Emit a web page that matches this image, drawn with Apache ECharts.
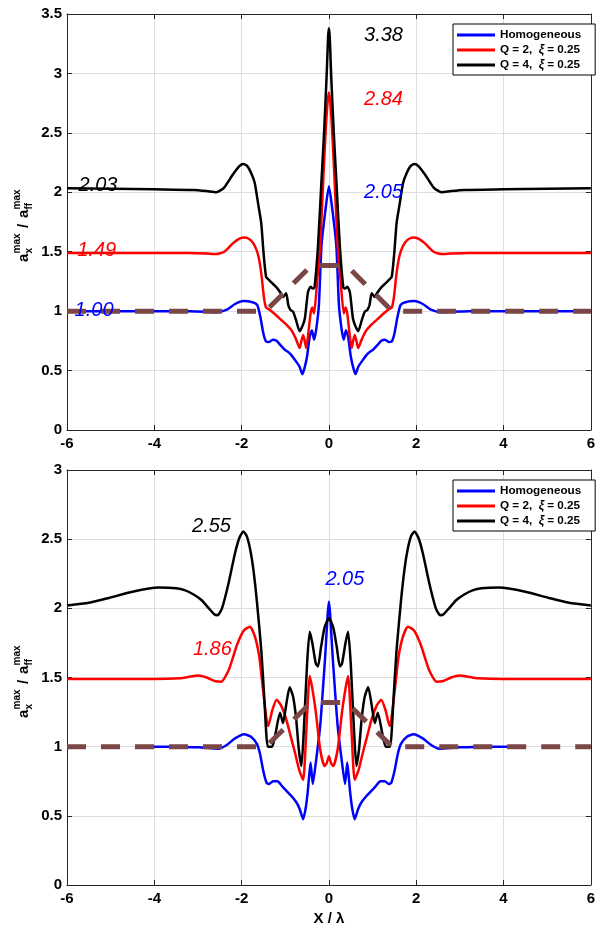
<!DOCTYPE html>
<html><head><meta charset="utf-8">
<script src="https://cdn.jsdelivr.net/npm/echarts@6/dist/echarts.min.js"></script>
<style>html,body{margin:0;padding:0;background:#fff}#c{width:598px;height:927px}</style>
</head><body><div id="c"></div>
<script>
// ---------- ticks ----------
const xTicks = [-6, -4, -2, 0, 2, 4, 6];
const yTicksTop = [0, 0.5, 1, 1.5, 2, 2.5, 3, 3.5];
const yTicksBottom = [0, 0.5, 1, 1.5, 2, 2.5, 3];

const names = ['Homogeneous', 'Q = 2,  ξ = 0.25', 'Q = 4,  ξ = 0.25'];
const colors = ['#0000ff', '#ff0000', '#000000'];

// ---------- top panel data [x, y] ----------
const topHomogeneous = [
[-6,1.0],[-5,1.0],[-4,1.0],[-3.2,1.0],[-2.8,0.995],[-2.58,0.99],[-2.35,1.01],[-2.15,1.06],[-1.96,1.085],[-1.75,1.075],[-1.64,1.05],[-1.57,0.95],[-1.5,0.81],[-1.44,0.745],[-1.37,0.74],[-1.28,0.76],[-1.2,0.75],[-1.1,0.71],[-1.01,0.675],[-0.93,0.655],[-0.86,0.63],[-0.75,0.575],[-0.67,0.53],[-0.61,0.47],[-0.56,0.52],[-0.5,0.62],[-0.44,0.785],[-0.39,0.84],[-0.34,0.76],[-0.29,0.85],[-0.23,1.05],[-0.17,1.55],[-0.08,1.85],[0,2.05],
[0.08,1.85],[0.17,1.55],[0.23,1.05],[0.29,0.85],[0.34,0.76],[0.39,0.84],[0.44,0.785],[0.5,0.62],[0.56,0.52],[0.61,0.47],[0.67,0.53],[0.75,0.575],[0.86,0.63],[0.93,0.655],[1.01,0.675],[1.1,0.71],[1.2,0.75],[1.28,0.76],[1.37,0.74],[1.44,0.745],[1.5,0.81],[1.57,0.95],[1.64,1.05],[1.75,1.075],[1.96,1.085],[2.15,1.06],[2.35,1.01],[2.58,0.99],[2.8,0.995],[3.2,1.0],[4,1.0],[5,1.0],[6,1.0]
];
const topQ2 = [
[-6,1.49],[-5,1.49],[-4,1.49],[-3.2,1.49],[-2.8,1.485],[-2.58,1.48],[-2.4,1.5],[-2.2,1.57],[-2.05,1.61],[-1.92,1.62],[-1.8,1.6],[-1.7,1.55],[-1.62,1.47],[-1.55,1.32],[-1.49,1.12],[-1.44,1.03],[-1.35,1.01],[-1.22,0.97],[-1.09,0.925],[-0.97,0.885],[-0.86,0.84],[-0.76,0.77],[-0.67,0.69],[-0.63,0.75],[-0.59,0.8],[-0.55,0.74],[-0.52,0.69],[-0.47,0.82],[-0.42,0.98],[-0.38,1.03],[-0.34,0.98],[-0.27,1.25],[-0.2,1.56],[-0.13,2.1],[-0.075,2.51],[-0.03,2.76],[0,2.84],
[0.03,2.76],[0.075,2.51],[0.13,2.1],[0.2,1.56],[0.27,1.25],[0.34,0.98],[0.38,1.03],[0.42,0.98],[0.47,0.82],[0.52,0.69],[0.55,0.74],[0.59,0.8],[0.63,0.75],[0.67,0.69],[0.76,0.77],[0.86,0.84],[0.97,0.885],[1.09,0.925],[1.22,0.97],[1.35,1.01],[1.44,1.03],[1.49,1.12],[1.55,1.32],[1.62,1.47],[1.7,1.55],[1.8,1.6],[1.92,1.62],[2.05,1.61],[2.2,1.57],[2.4,1.5],[2.58,1.48],[2.8,1.485],[3.2,1.49],[4,1.49],[5,1.49],[6,1.49]
];
const topQ4 = [
[-6,2.035],[-5,2.03],[-4,2.025],[-3.1,2.02],[-2.8,2.01],[-2.58,2.0],[-2.4,2.04],[-2.2,2.15],[-2.05,2.22],[-1.96,2.237],[-1.87,2.22],[-1.78,2.16],[-1.7,2.08],[-1.62,1.9],[-1.55,1.74],[-1.5,1.5],[-1.44,1.29],[-1.38,1.265],[-1.3,1.235],[-1.2,1.2],[-1.1,1.15],[-1.05,1.12],[-0.98,1.15],[-0.93,1.05],[-0.88,1.01],[-0.82,0.995],[-0.75,0.92],[-0.67,0.83],[-0.6,0.88],[-0.55,0.94],[-0.48,1.16],[-0.42,1.205],[-0.37,1.19],[-0.33,1.2],[-0.25,1.55],[-0.17,2.1],[-0.11,2.51],[-0.05,3.0],[-0.02,3.3],[0,3.38],
[0.02,3.3],[0.05,3.0],[0.11,2.51],[0.17,2.1],[0.25,1.55],[0.33,1.2],[0.37,1.19],[0.42,1.205],[0.48,1.16],[0.55,0.94],[0.6,0.88],[0.67,0.83],[0.75,0.92],[0.82,0.995],[0.88,1.01],[0.93,1.05],[0.98,1.15],[1.05,1.12],[1.1,1.15],[1.2,1.2],[1.3,1.235],[1.38,1.265],[1.44,1.29],[1.5,1.5],[1.55,1.74],[1.62,1.9],[1.7,2.08],[1.78,2.16],[1.87,2.22],[1.96,2.237],[2.05,2.22],[2.2,2.15],[2.4,2.04],[2.58,2.0],[2.8,2.01],[3.1,2.02],[4,2.025],[5,2.03],[6,2.035]
];
const topTopography = [[-6,1],[-1.45,1],[-0.4,1.385],[0.4,1.385],[1.45,1],[6,1]];

// ---------- bottom panel data [x, y] ----------
const botHomogeneous = [
[-4.43,1.0],[-4,1.0],[-3.5,1.0],[-3.0,0.995],[-2.75,0.99],[-2.53,0.985],[-2.35,1.01],[-2.15,1.06],[-1.94,1.09],[-1.78,1.07],[-1.65,1.02],[-1.58,0.95],[-1.5,0.82],[-1.43,0.74],[-1.37,0.73],[-1.28,0.75],[-1.18,0.75],[-1.06,0.71],[-0.94,0.67],[-0.85,0.64],[-0.75,0.6],[-0.67,0.55],[-0.59,0.476],[-0.53,0.56],[-0.48,0.69],[-0.42,0.885],[-0.37,0.73],[-0.3,0.885],[-0.2,1.15],[-0.09,1.63],[0,2.05],
[0.09,1.63],[0.2,1.15],[0.3,0.885],[0.37,0.73],[0.42,0.885],[0.48,0.69],[0.53,0.56],[0.59,0.476],[0.67,0.55],[0.75,0.6],[0.85,0.64],[0.94,0.67],[1.06,0.71],[1.18,0.75],[1.28,0.75],[1.37,0.73],[1.43,0.74],[1.5,0.82],[1.58,0.95],[1.65,1.02],[1.78,1.07],[1.94,1.09],[2.15,1.06],[2.35,1.01],[2.53,0.985],[2.75,0.99],[3.0,0.995],[3.5,1.0],[4,1.0],[4.43,1.0]
];
const botQ2 = [
[-6,1.49],[-5,1.49],[-4,1.49],[-3.4,1.495],[-3.2,1.505],[-2.99,1.514],[-2.8,1.5],[-2.62,1.475],[-2.47,1.47],[-2.3,1.55],[-2.1,1.74],[-1.95,1.84],[-1.81,1.867],[-1.7,1.8],[-1.6,1.66],[-1.53,1.47],[-1.47,1.3],[-1.42,1.18],[-1.39,1.15],[-1.3,1.26],[-1.2,1.34],[-1.1,1.3],[-0.98,1.2],[-0.88,1.08],[-0.78,0.96],[-0.68,0.83],[-0.59,0.76],[-0.52,1.1],[-0.44,1.51],[-0.38,1.42],[-0.3,1.25],[-0.2,0.98],[-0.1,0.86],[-0.05,0.88],[0,0.93],
[0.05,0.88],[0.1,0.86],[0.2,0.98],[0.3,1.25],[0.38,1.42],[0.44,1.51],[0.52,1.1],[0.59,0.76],[0.68,0.83],[0.78,0.96],[0.88,1.08],[0.98,1.2],[1.1,1.3],[1.2,1.34],[1.3,1.26],[1.39,1.15],[1.42,1.18],[1.47,1.3],[1.53,1.47],[1.6,1.66],[1.7,1.8],[1.81,1.867],[1.95,1.84],[2.1,1.74],[2.3,1.55],[2.47,1.47],[2.62,1.475],[2.8,1.5],[2.99,1.514],[3.2,1.505],[3.4,1.495],[4,1.49],[5,1.49],[6,1.49]
];
const botQ4 = [
[-6,2.02],[-5.5,2.04],[-5.04,2.075],[-4.5,2.12],[-3.9,2.15],[-3.5,2.145],[-3.29,2.13],[-3.1,2.1],[-2.92,2.06],[-2.75,2.0],[-2.62,1.955],[-2.55,1.95],[-2.45,2.0],[-2.3,2.18],[-2.15,2.4],[-2.05,2.51],[-1.96,2.555],[-1.88,2.52],[-1.8,2.42],[-1.73,2.28],[-1.65,2.05],[-1.55,1.7],[-1.48,1.35],[-1.44,1.12],[-1.4,1.0],[-1.3,1.0],[-1.22,1.1],[-1.12,1.245],[-1.05,1.17],[-0.98,1.3],[-0.9,1.43],[-0.82,1.36],[-0.75,1.2],[-0.69,0.98],[-0.63,0.86],[-0.57,1.15],[-0.5,1.6],[-0.44,1.83],[-0.38,1.75],[-0.3,1.6],[-0.25,1.58],[-0.18,1.72],[-0.1,1.86],[0,1.93],
[0.1,1.86],[0.18,1.72],[0.25,1.58],[0.3,1.6],[0.38,1.75],[0.44,1.83],[0.5,1.6],[0.57,1.15],[0.63,0.86],[0.69,0.98],[0.75,1.2],[0.82,1.36],[0.9,1.43],[0.98,1.3],[1.05,1.17],[1.12,1.245],[1.22,1.1],[1.3,1.0],[1.4,1.0],[1.44,1.12],[1.48,1.35],[1.55,1.7],[1.65,2.05],[1.73,2.28],[1.8,2.42],[1.88,2.52],[1.96,2.555],[2.05,2.51],[2.15,2.4],[2.3,2.18],[2.45,2.0],[2.55,1.95],[2.62,1.955],[2.75,2.0],[2.92,2.06],[3.1,2.1],[3.29,2.13],[3.5,2.145],[3.9,2.15],[4.5,2.12],[5.04,2.075],[5.5,2.04],[6,2.02]
];
const botTopography = [[-6,1],[-1.45,1],[-0.4,1.32],[0.4,1.32],[1.45,1],[6,1]];

// ---------- annotations [x, y, text, colorIndex] ----------
const topNotes = [[1.25,3.32,'3.38',2],[1.25,2.78,'2.84',1],[1.25,2.0,'2.05',0],[-5.29,2.06,'2.03',2],[-5.32,1.51,'1.49',1],[-5.38,1.01,'1.00',0]];
const botNotes = [[-2.69,2.59,'2.55',2],[-2.67,1.70,'1.86',1],[0.365,2.21,'2.05',0]];

// ---------- build ----------
const FONT = 'Liberation Sans, Arial, Helvetica, sans-serif';
const axisCol = '#262626';
const chart = echarts.init(document.getElementById('c'), null, {renderer: 'canvas'});

const grids = [
  {left: 67, top: 14, width: 527, height: 416},
  {left: 67, top: 470, width: 527, height: 416}
];

function xAx(gi, pos, showLabel, name) {
  return {
    type: 'value', gridIndex: gi, position: pos,
    min: xTicks[0], max: xTicks[xTicks.length - 1], interval: xTicks[1] - xTicks[0],
    axisLine: {show: true, onZero: false, lineStyle: {color: axisCol, width: 1}},
    axisTick: {show: true, inside: true, length: 5, lineStyle: {color: axisCol}},
    axisLabel: {show: showLabel, color: '#000', fontFamily: FONT, fontWeight: 'bold', fontSize: 15, margin: 6},
    splitLine: {show: showLabel, lineStyle: {color: '#dedede', width: 1}},
    name: name || '', nameLocation: 'middle', nameGap: 26,
    nameTextStyle: {color: '#000', fontFamily: FONT, fontWeight: 'bold', fontSize: 15}
  };
}
function yAx(gi, pos, ticks, showLabel) {
  return {
    type: 'value', gridIndex: gi, position: pos,
    min: ticks[0], max: ticks[ticks.length - 1], interval: ticks[1] - ticks[0],
    axisLine: {show: true, onZero: false, lineStyle: {color: axisCol, width: 1}},
    axisTick: {show: true, inside: true, length: 5, lineStyle: {color: axisCol}},
    axisLabel: {show: showLabel, color: '#000', fontFamily: FONT, fontWeight: 'bold', fontSize: 15, margin: 5},
    splitLine: {show: showLabel, lineStyle: {color: '#dedede', width: 1}}
  };
}

function lineSeries(name, data, xi, yi, color) {
  return {
    type: 'line', name: name, data: data, xAxisIndex: xi, yAxisIndex: yi,
    showSymbol: false, symbol: 'none', smooth: 0.2, silent: true,
    lineStyle: {color: color, width: 2.5}, itemStyle: {color: color}, z: 3
  };
}
function topoSeries(data, xi, yi) {
  return {
    type: 'line', name: 'topo', data: data, xAxisIndex: xi, yAxisIndex: yi,
    showSymbol: false, symbol: 'none', silent: true,
    lineStyle: {color: '#7a4646', width: 5, type: [19, 15], cap: 'butt'}, z: 4
  };
}

function legendCfg(top) {
  return {
    orient: 'vertical', left: 453, top: top,
    data: names.map((n, i) => ({name: n, icon: 'rect', itemStyle: {color: colors[i]}})),
    itemWidth: 38, itemHeight: 3, itemGap: 1,
    padding: [4, 14, 3, 4],
    borderColor: '#000', borderWidth: 1, backgroundColor: '#fff',
    selectedMode: false,
    formatter: function (n) {
      if (n === names[0]) return '{b|Homogeneous}';
      const q = n.indexOf('Q = 2') === 0 ? '2' : '4';
      return '{b|Q = ' + q + ',  }{i|ξ}{b| = 0.25}';
    },
    textStyle: {
      color: '#000', fontFamily: FONT, fontWeight: 'bold', fontSize: 11.7, lineHeight: 14,
      rich: {
        b: {fontFamily: FONT, fontWeight: 'bold', fontSize: 11.7, color: '#000', lineHeight: 14},
        i: {fontFamily: FONT, fontWeight: 'bold', fontStyle: 'italic', fontSize: 12, color: '#000', lineHeight: 14}
      }
    },
    z: 10
  };
}

function yLabel(cy) {
  const base = {fontFamily: FONT, fontWeight: 'bold', fill: '#000', textAlign: 'left', textVerticalAlign: 'middle'};
  const t = (x, y, text, size) => ({type: 'text', x: x, y: y, silent: true,
    style: Object.assign({}, base, {text: text, fontSize: size})});
  return {
    type: 'group', x: 24, y: cy, rotation: Math.PI / 2, z: 10,
    children: [
      t(-40, 0, 'a', 15), t(-31.5, -7, 'max', 10), t(-31.5, 5, 'x', 10),
      t(-6, 0, '/', 15),
      t(4, 0, 'a', 15), t(12.5, -7, 'max', 10), t(12.5, 5, 'ff', 10)
    ]
  };
}

chart.setOption({
  backgroundColor: '#fff',
  animation: false,
  grid: grids,
  xAxis: [xAx(0, 'bottom', true), xAx(0, 'top', false), xAx(1, 'bottom', true, 'X / λ'), xAx(1, 'top', false)],
  yAxis: [yAx(0, 'left', yTicksTop, true), yAx(0, 'right', yTicksTop, false), yAx(1, 'left', yTicksBottom, true), yAx(1, 'right', yTicksBottom, false)],
  legend: [legendCfg(24), legendCfg(480)],
  series: [
    lineSeries(names[0], topHomogeneous, 0, 0, colors[0]),
    lineSeries(names[1], topQ2, 0, 0, colors[1]),
    lineSeries(names[2], topQ4, 0, 0, colors[2]),
    topoSeries(topTopography, 0, 0),
    lineSeries(names[0], botHomogeneous, 2, 2, colors[0]),
    lineSeries(names[1], botQ2, 2, 2, colors[1]),
    lineSeries(names[2], botQ4, 2, 2, colors[2]),
    topoSeries(botTopography, 2, 2)
  ]
});

// annotations placed through the library's own coordinate conversion
function noteTexts(notes, gridIndex) {
  return notes.map(n => {
    const p = chart.convertToPixel({xAxisIndex: gridIndex * 2, yAxisIndex: gridIndex * 2}, [n[0], n[1]]);
    return {type: 'text', x: p[0], y: p[1], silent: true, z: 20,
      style: {text: n[2], fill: colors[n[3]], fontFamily: FONT, fontStyle: 'italic', fontSize: 20,
        textAlign: 'center', textVerticalAlign: 'middle'}};
  });
}
chart.setOption({
  graphic: [yLabel(222), yLabel(678)].concat(noteTexts(topNotes, 0), noteTexts(botNotes, 1))
});
</script>
</body></html>
